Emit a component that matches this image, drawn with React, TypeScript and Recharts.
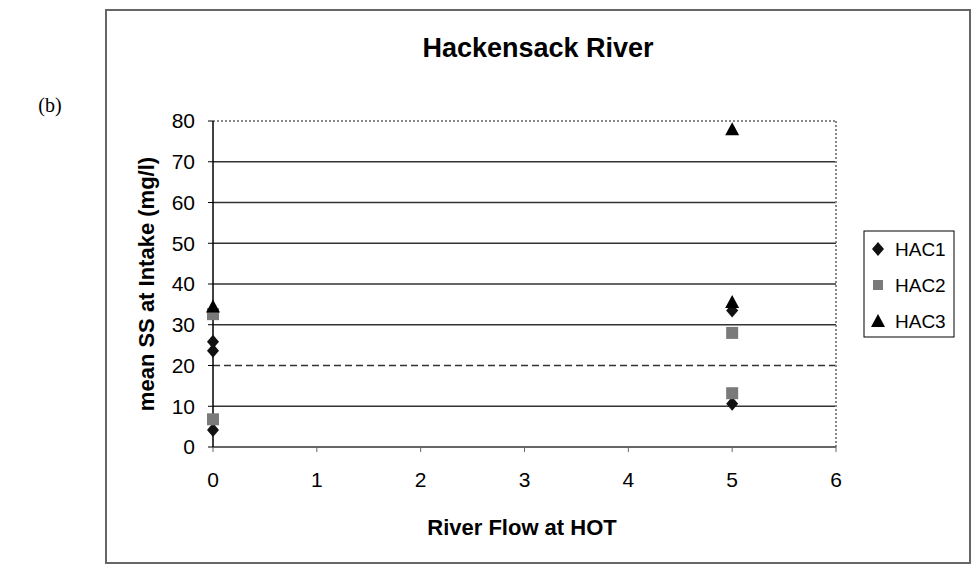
import React from "react";
import {
  ScatterChart,
  Scatter,
  XAxis,
  YAxis,
  ReferenceLine,
  Customized,
} from "recharts";

// ---- data ----
const seriesNames = ["HAC1", "HAC2", "HAC3"];
const hac1X = [0, 0, 0, 5, 5];
const hac1Y = [4.2, 23.6, 25.8, 33.5, 10.6];
const hac2X = [0, 0, 5, 5];
const hac2Y = [6.8, 32.6, 28, 13.2];
const hac3X = [0, 5, 5];
const hac3Y = [34.5, 35.6, 78];

const xTicks = [0, 1, 2, 3, 4, 5, 6];
const yTicks = [0, 10, 20, 30, 40, 50, 60, 70, 80];
const gridValues = [10, 20, 30, 40, 50, 60, 70];

const title = "Hackensack River";
const xTitle = "River Flow at HOT";
const yTitle = "mean SS at Intake (mg/l)";
const panelLabel = "(b)";

const toPoints = (xs: number[], ys: number[]) =>
  xs.map((x, i) => ({ x, y: ys[i] }));

const hac1 = toPoints(hac1X, hac1Y);
const hac2 = toPoints(hac2X, hac2Y);
const hac3 = toPoints(hac3X, hac3Y);

const FONT = "'Liberation Sans', Arial, sans-serif";

const diamondPts = (cx: number, cy: number) =>
  `${cx},${cy - 7} ${cx + 6},${cy} ${cx},${cy + 7} ${cx - 6},${cy}`;
const trianglePts = (cx: number, cy: number) =>
  `${cx},${cy - 7} ${cx + 7},${cy + 6} ${cx - 7},${cy + 6}`;

const Diamond = (props: any) => (
  <polygon points={diamondPts(props.cx, props.cy)} fill="#111" />
);
const Square = (props: any) => (
  <rect x={props.cx - 6} y={props.cy - 6} width={12} height={12} fill="#7a7a7a" />
);
const Triangle = (props: any) => (
  <polygon points={trianglePts(props.cx, props.cy)} fill="#000" />
);

const legendMarker = (name: string, cx: number, cy: number) => {
  if (name === "HAC1") return <polygon points={diamondPts(cx, cy)} fill="#111" />;
  if (name === "HAC2")
    return <rect x={cx - 5} y={cy - 5} width={10} height={10} fill="#7a7a7a" />;
  return <polygon points={trianglePts(cx, cy)} fill="#000" />;
};

const Extras = () => (
  <g>
    <rect
      x={106}
      y={10}
      width={864}
      height={553}
      fill="none"
      stroke="#666"
      strokeWidth={2}
    />
    <text
      x={538}
      y={57}
      textAnchor="middle"
      fontFamily={FONT}
      fontWeight="bold"
      fontSize={27}
      fill="#000"
    >
      {title}
    </text>
    <text
      x={522}
      y={535}
      textAnchor="middle"
      fontFamily={FONT}
      fontWeight="bold"
      fontSize={22}
      fill="#000"
    >
      {xTitle}
    </text>
    <text
      x={154}
      y={284}
      textAnchor="middle"
      transform="rotate(-90 154 284)"
      fontFamily={FONT}
      fontWeight="bold"
      fontSize={22}
      fill="#000"
    >
      {yTitle}
    </text>
    <text
      x={50}
      y={112}
      textAnchor="middle"
      fontFamily="'Liberation Serif', 'Times New Roman', serif"
      fontSize={20}
      fill="#000"
    >
      {panelLabel}
    </text>
    <g>
      <rect x={864} y={231} width={90} height={106} fill="#fff" stroke="#000" strokeWidth={1} />
      {seriesNames.map((n, i) => {
        const cy = 249 + i * 36;
        return (
          <g key={n}>
            {legendMarker(n, 878, cy)}
            <text
              x={895}
              y={cy + 7}
              fontFamily={FONT}
              fontSize={19}
              fill="#000"
            >
              {n}
            </text>
          </g>
        );
      })}
    </g>
  </g>
);

export default function App() {
  return (
    <div style={{ position: "absolute", left: 0, top: 0, background: "#fff" }}>
      <ScatterChart
        width={975}
        height={571}
        margin={{ top: 121, right: 139, bottom: 74, left: 153 }}
      >
        <XAxis
          type="number"
          dataKey="x"
          domain={[0, 6]}
          ticks={xTicks}
          interval={0}
          height={50}
          tickSize={5}
          tickMargin={20}
          axisLine={{ stroke: "#666", strokeWidth: 2 }}
          tickLine={{ stroke: "#666" }}
          tick={{ fontSize: 21, fill: "#000", fontFamily: FONT }}
        />
        <YAxis
          type="number"
          dataKey="y"
          domain={[0, 80]}
          ticks={yTicks}
          interval={0}
          width={60}
          tickSize={5}
          tickMargin={13}
          axisLine={{ stroke: "#000", strokeWidth: 1.5 }}
          tickLine={{ stroke: "#000" }}
          tick={{ fontSize: 21, fill: "#000", fontFamily: FONT }}
        />
        {gridValues.map((v) => (
          <ReferenceLine
            key={v}
            y={v}
            stroke="#333"
            strokeWidth={1.5}
            strokeDasharray={v === 20 ? "7 4" : undefined}
          />
        ))}
        <ReferenceLine y={80} stroke="#888" strokeWidth={2} strokeDasharray="2 2" />
        <ReferenceLine x={6} stroke="#888" strokeWidth={2} strokeDasharray="2 2" />
        <Scatter name="HAC1" data={hac1} shape={Diamond} isAnimationActive={false} />
        <Scatter name="HAC2" data={hac2} shape={Square} isAnimationActive={false} />
        <Scatter name="HAC3" data={hac3} shape={Triangle} isAnimationActive={false} />
        <Customized component={Extras} />
      </ScatterChart>
    </div>
  );
}
